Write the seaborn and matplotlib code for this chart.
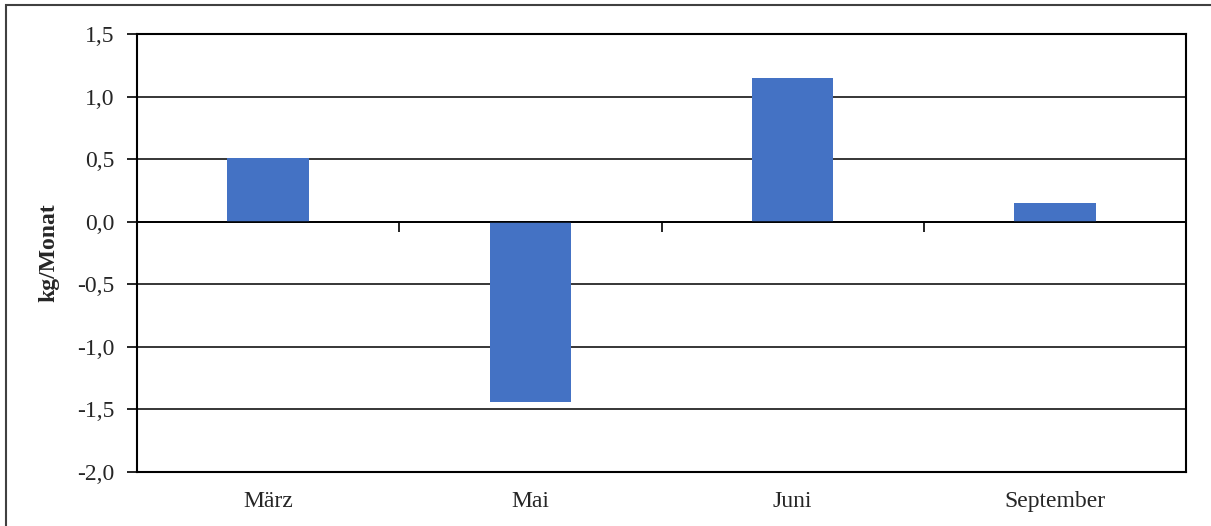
import numpy as np
import pandas as pd
import matplotlib
matplotlib.use('Agg')
import matplotlib.pyplot as plt
import seaborn as sns
from matplotlib.patches import Rectangle

# ── data ────────────────────────────────────────────
months = ['März', 'Mai', 'Juni', 'September']
values = [0.51, -1.44, 1.15, 0.15]
y_ticks = [-2.0, -1.5, -1.0, -0.5, 0.0, 0.5, 1.0, 1.5]
y_label = 'kg/Monat'

df = pd.DataFrame({'month': months, 'value': values})

sns.set_theme(style='white')
plt.rcParams['font.family'] = ['Liberation Serif', 'DejaVu Serif']

fig = plt.figure(figsize=(12.11, 5.26), dpi=100)
ax = fig.add_axes([137 / 1211, 1 - 472 / 526, (1186 - 137) / 1211, (472 - 34) / 526])

sns.barplot(data=df, x='month', y='value', color='#4472C4', saturation=1,
            width=0.31, linewidth=0, ax=ax, zorder=3)

ax.set_ylim(-2.0, 1.5)
ax.set_xlim(-0.5, len(months) - 0.5)
ax.set_yticks(y_ticks)
ax.set_yticklabels([f'{v:.1f}'.replace('.', ',') for v in y_ticks], fontsize=17)
ax.set_xticks(range(len(months)))
ax.set_xticklabels(months, fontsize=17)
ax.tick_params(axis='x', length=0, pad=14)
ax.tick_params(axis='y', direction='out', length=7, width=1.2, color='black',
               left=True, pad=9)
ax.set_xlabel('')
ax.set_ylabel(y_label, fontsize=17, fontweight='bold', labelpad=13)

ax.yaxis.grid(True, color='black', linewidth=1.1, zorder=1)
ax.set_axisbelow(True)
ax.axhline(0, color='black', linewidth=1.1, zorder=4)
for s in ax.spines.values():
    s.set_visible(True)
    s.set_color('black')
    s.set_linewidth(1.5)

# category separator ticks on the zero line
sec = ax.secondary_xaxis(2.0 / 3.5)
sec.set_xticks(np.arange(0.5, len(months) - 0.5, 1.0))
sec.set_xticklabels([])
sec.tick_params(direction='in', length=7, width=1.2, color='black')
sec.spines['bottom'].set_visible(False)

# outer frame (only top and left edges visible)
fig.patches.append(Rectangle((6 / 1211, -0.1), 1.1, 1.1 - 5 / 526,
                             transform=fig.transFigure, fill=False,
                             edgecolor='#404040', linewidth=1.5))

fig.savefig('out.png', dpi=100)
